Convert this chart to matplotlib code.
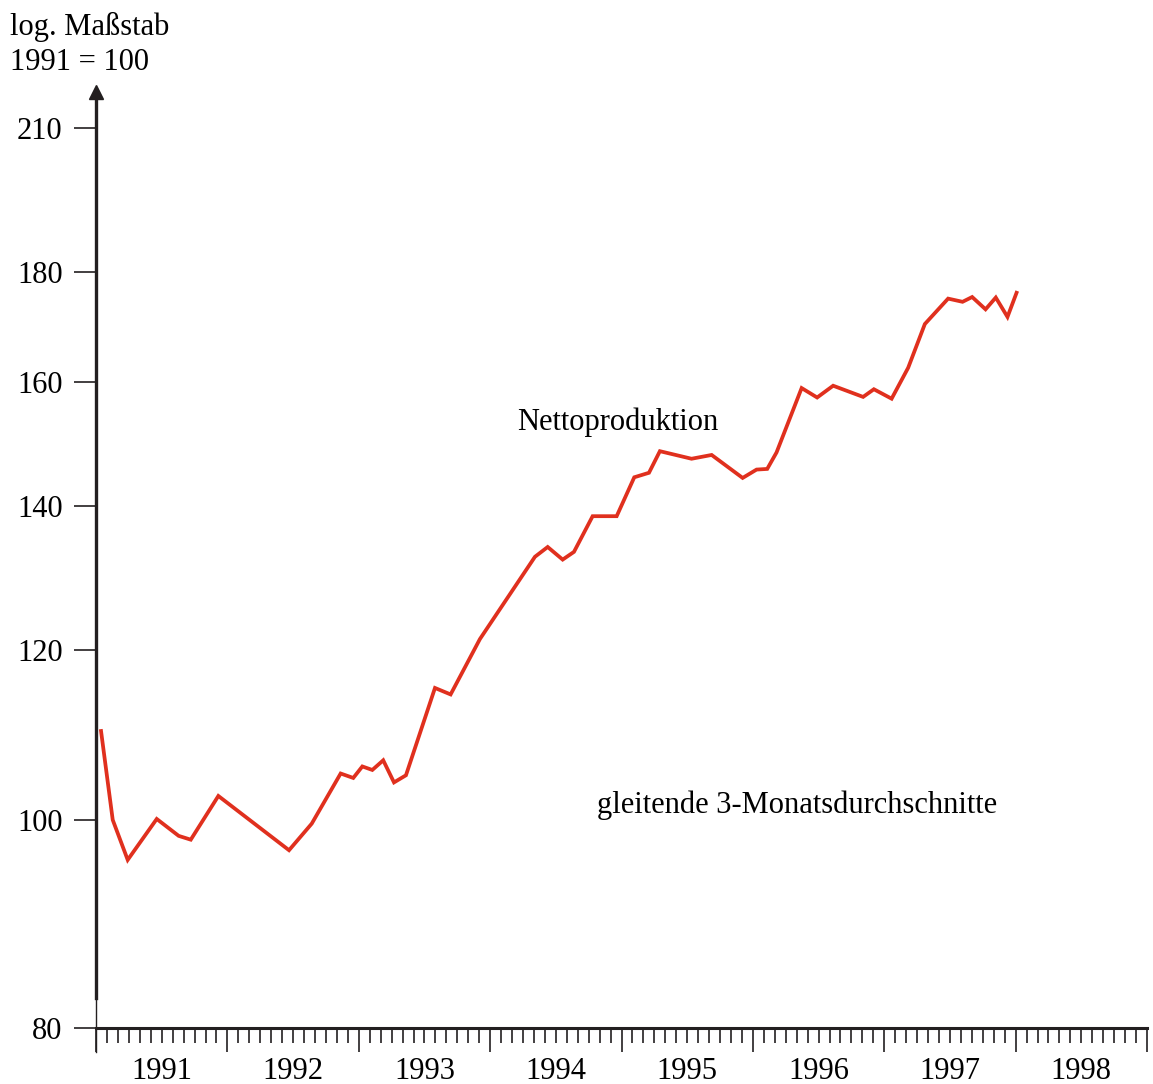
import numpy as np
import matplotlib
matplotlib.use("Agg")
import matplotlib.pyplot as plt
from matplotlib.ticker import FixedLocator, NullFormatter, NullLocator

# Nettoproduktion, gleitende 3-Monatsdurchschnitte (1991 = 100)
zeit = [1991.038, 1991.127, 1991.241, 1991.462, 1991.629, 1991.721, 1991.931,
        1992.469, 1992.642, 1992.862, 1992.958, 1993.027, 1993.103, 1993.186,
        1993.268, 1993.359, 1993.580, 1993.699, 1993.922, 1994.341, 1994.438,
        1994.552, 1994.638, 1994.780, 1994.963, 1995.097, 1995.209, 1995.292,
        1995.533, 1995.686, 1995.922, 1996.028, 1996.109, 1996.180, 1996.371,
        1996.489, 1996.611, 1996.839, 1996.921, 1997.056, 1997.182, 1997.309,
        1997.486, 1997.596, 1997.669, 1997.771, 1997.849, 1997.938, 1998.007]
netto = [110.0, 100.0, 95.8, 100.1, 98.3, 97.9, 102.6,
         96.8, 99.6, 105.1, 104.6, 105.9, 105.5, 106.6,
         104.1, 104.9, 115.2, 114.4, 121.4, 132.6, 134.0,
         132.2, 133.3, 138.5, 138.5, 144.4, 145.1, 148.5,
         147.3, 147.9, 144.3, 145.6, 145.7, 148.3, 158.9,
         157.3, 159.3, 157.4, 158.7, 157.1, 162.4, 170.2,
         174.9, 174.3, 175.2, 172.9, 175.1, 171.5, 176.0]

y_ticks = [80, 100, 120, 140, 160, 180, 210]
jahre = [1991, 1992, 1993, 1994, 1995, 1996, 1997, 1998]

plt.rcParams['font.family'] = ['Liberation Serif', 'DejaVu Serif']
dunkel = '#231f20'
rot = '#e0301e'

fig = plt.figure(figsize=(11.53, 10.84), dpi=100)
ax = fig.add_axes([0.0833, 0.0517, 0.9115, 0.8635])

ax.plot(zeit, netto, color=rot, lw=2.7, solid_joinstyle='miter')

ax.set_yscale('log')
ax.set_ylim(80, 218.3)
ax.set_xlim(1991, 1999)

# y-Achse
ax.yaxis.set_major_locator(FixedLocator(y_ticks))
ax.set_yticklabels([str(v) for v in y_ticks])
ax.yaxis.set_minor_locator(NullLocator())
ax.yaxis.set_minor_formatter(NullFormatter())
ax.tick_params(axis='y', direction='out', length=16, width=1.2, color=dunkel,
               labelsize=22, pad=8, labelcolor='black')

# x-Achse: Jahre lang, Monate kurz
ax.xaxis.set_major_locator(FixedLocator(jahre + [1999]))
ax.xaxis.set_minor_locator(FixedLocator(np.arange(1991, 1999, 1 / 12)))
ax.xaxis.set_major_formatter(NullFormatter())
ax.tick_params(axis='x', which='major', direction='out', length=17, width=1.2, color=dunkel)
ax.tick_params(axis='x', which='minor', direction='out', length=11, width=1.2, color=dunkel)
for j in jahre:
    ax.text(j + 0.5, -0.046, str(j), transform=ax.get_xaxis_transform(),
            ha='center', va='center', fontsize=22)

for s in ['top', 'right']:
    ax.spines[s].set_visible(False)
ax.spines['bottom'].set_linewidth(2.2)
ax.spines['bottom'].set_color(dunkel)
ax.spines['left'].set_linewidth(2.4)
ax.spines['left'].set_color(dunkel)
ax.spines['left'].set_bounds(82.6, 218.3)

# duenner Rest der y-Achse unterhalb des Bruchs und Pfeilspitze
ax.plot([0, 0], [-0.026, 0.032], transform=ax.transAxes, color=dunkel,
        lw=1.0, clip_on=False)
ax.plot([0], [1.0], transform=ax.transAxes, marker='^', ms=10, color=dunkel,
        clip_on=False)

ax.text(1994.204, 153.2, 'Nettoproduktion', fontsize=22, ha='left', va='center')
ax.text(1994.813, 101.6, 'gleitende 3-Monatsdurchschnitte', fontsize=22,
        ha='left', va='center')

fig.text(0.009, 0.975, 'log. Maßstab', fontsize=22, ha='left', va='center')
fig.text(0.009, 0.942, '1991 = 100', fontsize=22, ha='left', va='center')

fig.savefig('out.png', dpi=100)
